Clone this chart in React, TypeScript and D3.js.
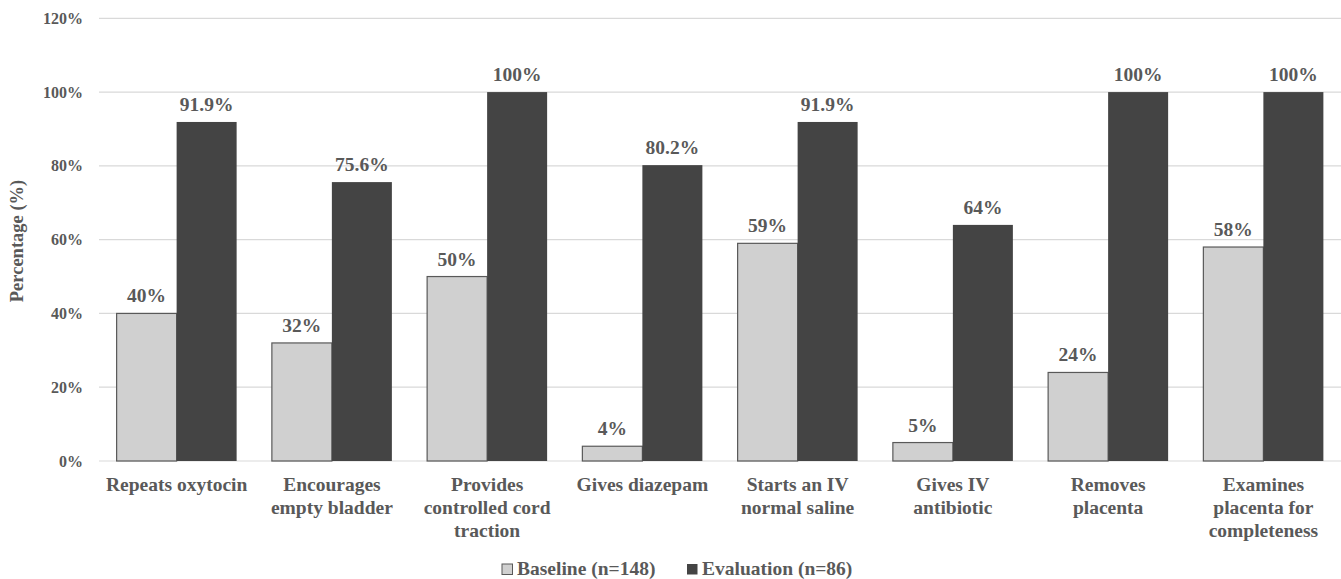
import React from "react";
import * as d3 from "d3";

const categories: string[][] = [
  ["Repeats oxytocin"],
  ["Encourages", "empty bladder"],
  ["Provides", "controlled cord", "traction"],
  ["Gives diazepam"],
  ["Starts an IV", "normal saline"],
  ["Gives IV", "antibiotic"],
  ["Removes", "placenta"],
  ["Examines", "placenta for", "completeness"],
];
const baseline = [40, 32, 50, 4, 59, 5, 24, 58];
const baselineLabels = ["40%", "32%", "50%", "4%", "59%", "5%", "24%", "58%"];
const evaluation = [91.9, 75.6, 100, 80.2, 91.9, 64, 100, 100];
const evaluationLabels = ["91.9%", "75.6%", "100%", "80.2%", "91.9%", "64%", "100%", "100%"];
const yTicks = [0, 20, 40, 60, 80, 100, 120];
const seriesNames = ["Baseline (n=148)", "Evaluation (n=86)"];

const W = 1341;
const H = 579;
const FONT = "'Liberation Serif', 'Times New Roman', serif";
const TEXT = "#595959";
const FILLS = ["#d0d0d0", "#444444"];

export default function App() {
  const left = 99;
  const right = 1341;
  const y = d3.scaleLinear().domain([0, 120]).range([461, 18.3]);
  const idx = categories.map((_, i) => String(i));
  const x0 = d3.scaleBand().domain(idx).range([left, right]).paddingInner(0.227).paddingOuter(0.1135);
  const x1 = d3.scaleBand().domain(["0", "1"]).range([0, x0.bandwidth()]);
  const step = x0.step();
  const series = [baseline, evaluation];
  const labels = [baselineLabels, evaluationLabels];

  return (
    <svg
      width={W}
      height={H}
      style={{ position: "absolute", left: 0, top: 0, background: "#fff" }}
      fontFamily={FONT}
      fontWeight="bold"
    >
      {yTicks.map((t) => (
        <g key={t}>
          <line x1={left} x2={right} y1={y(t)} y2={y(t)} stroke="#d9d9d9" strokeWidth={1.2} />
          <text x={83} y={y(t)} dy="0.35em" textAnchor="end" fontSize={16} fill={TEXT}>
            {t}%
          </text>
        </g>
      ))}
      <text
        transform={`translate(23,241) rotate(-90)`}
        textAnchor="middle"
        fontSize={18.5}
        fill={TEXT}
      >
        Percentage (%)
      </text>
      {series.map((vals, s) =>
        vals.map((v, i) => {
          const bx = (x0(String(i)) as number) + (x1(String(s)) as number);
          const bw = x1.bandwidth();
          return (
            <g key={`${s}-${i}`}>
              <rect
                x={bx}
                y={y(v)}
                width={bw}
                height={y(0) - y(v)}
                fill={FILLS[s]}
                stroke={s === 0 ? "#595959" : "none"}
                strokeWidth={1.2}
              />
              <text x={bx + bw / 2} y={y(v) - 11} textAnchor="middle" fontSize={19.5} fill={TEXT}>
                {labels[s][i]}
              </text>
            </g>
          );
        })
      )}
      {categories.map((lines, i) => {
        const cx = (x0(String(i)) as number) + x0.bandwidth() / 2;
        return (
          <text key={i} textAnchor="middle" fontSize={19.5} fill={TEXT}>
            {lines.map((ln, j) => (
              <tspan key={j} x={cx} y={491 + j * 23}>
                {ln}
              </tspan>
            ))}
          </text>
        );
      })}
      {seriesNames.map((name, s) => {
        const lx = s === 0 ? 502 : 687;
        return (
          <g key={name}>
            <rect
              x={lx}
              y={564}
              width={10.5}
              height={10.5}
              fill={FILLS[s]}
              stroke={s === 0 ? "#595959" : "none"}
              strokeWidth={1}
            />
            <text x={lx + 15} y={575} fontSize={19.5} fill={TEXT}>
              {name}
            </text>
          </g>
        );
      })}
      {step > 0 ? null : null}
    </svg>
  );
}
